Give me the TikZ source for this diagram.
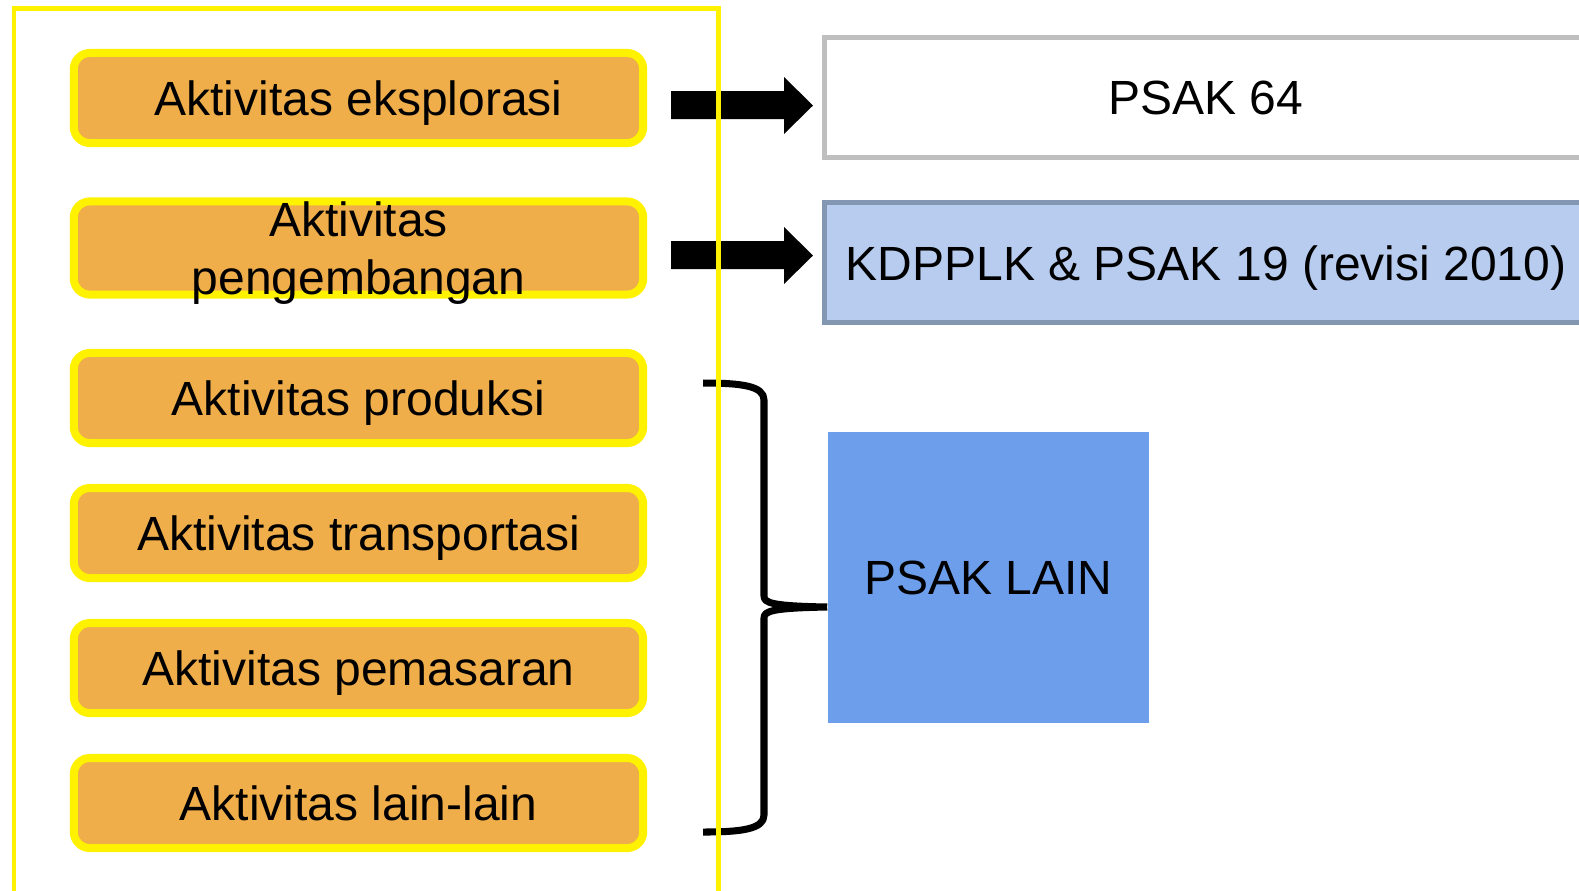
\documentclass[tikz,border=0pt]{standalone}
\usepackage{fontspec}
\setmainfont{Liberation Sans}
\definecolor{actorange}{RGB}{239,174,74}
\definecolor{kdfill}{RGB}{184,204,240}
\definecolor{kddraw}{RGB}{132,151,178}
\definecolor{lainfill}{RGB}{109,158,235}
\definecolor{psgray}{RGB}{191,191,191}
\begin{document}
\begin{tikzpicture}[x=0.01cm,y=-0.01cm,
  txt/.style={font=\fontsize{13.65}{16.6}\selectfont, text=black, text depth=0pt},
  act/.style={txt, draw=yellow, fill=actorange, line width=2.28pt, rounded corners=0.16cm,
    minimum width=5.69cm, minimum height=0.9cm, inner sep=0pt, align=center},
  bigarrow/.style={fill=black},
  frame/.style={draw=yellow, line width=1.42pt}
]
\clip (0,0) rectangle (1579,890);
\fill[white] (0,0) rectangle (1579,890);

% activity boxes
\node[act] (a1) at (358.5,98) {Aktivitas eksplorasi};
\node[act] (a2) at (358.5,248) {Aktivitas\\pengembangan};
\node[act] (a3) at (358.5,398) {Aktivitas produksi};
\node[act] (a4) at (358.5,533) {Aktivitas transportasi};
\node[act] (a5) at (358.5,668) {Aktivitas pemasaran};
\node[act] (a6) at (358.5,803) {Aktivitas lain-lain};

% right boxes
\draw[draw=psgray, fill=white, line width=1.42pt] (824,37.5) rectangle (1592,157.5);
\node[txt] (p64) at (1206,98) {PSAK 64};
\draw[draw=kddraw, fill=kdfill, line width=1.42pt] (824,202.5) rectangle (1592,322.5);
\node[txt] (kd) at (1206,263) {KDPPLK \& PSAK 19 (revisi 2010)};
\node[txt, fill=lainfill, minimum width=3.21cm, minimum height=2.91cm, inner sep=0pt] (lain) at (988.5,577.5) {PSAK LAIN};

% block arrows
\fill[bigarrow] (671,91) -- (784,91) -- (784,77) -- (813,105.5) -- (784,134) -- (784,119) -- (671,119) -- cycle;
\fill[bigarrow] (671,241) -- (784,241) -- (784,227) -- (813,255.5) -- (784,284) -- (784,269) -- (671,269) -- cycle;

% brace
\draw[line width=2pt, line cap=butt, line join=round]
  (703,383) .. controls (742,383) and (764,386) .. (764,400)
  -- (764,596) .. controls (764,603) and (772,606) .. (lain.west |- 0,607)
  (lain.west |- 0,607) .. controls (772,608) and (764,611) .. (764,618)
  -- (764,815) .. controls (764,829) and (742,832) .. (703,832);

% outer yellow frame
\draw[frame] (14,900) -- (14,8.5) -- (718,8.5) -- (718,900);
\end{tikzpicture}
\end{document}
